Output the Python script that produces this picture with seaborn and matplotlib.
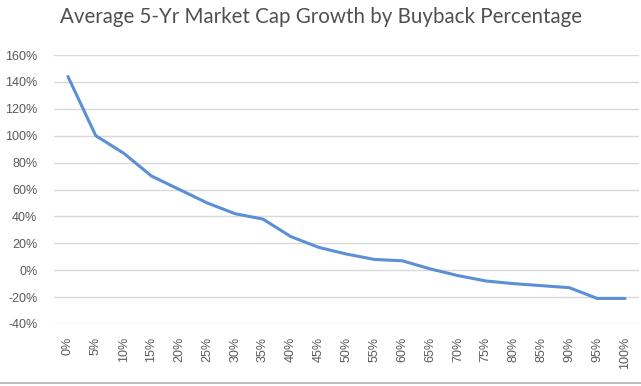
import matplotlib
matplotlib.use("Agg")
import matplotlib.pyplot as plt
import seaborn as sns
import pandas as pd

categories = ["0%", "5%", "10%", "15%", "20%", "25%", "30%", "35%", "40%", "45%",
              "50%", "55%", "60%", "65%", "70%", "75%", "80%", "85%", "90%", "95%", "100%"]
growth = [144, 100, 87, 70, 60, 50, 42, 38, 25, 17,
          12, 8, 7, 1, -4, -8, -10, -11.5, -13, -21, -21]
y_ticks = [-40, -20, 0, 20, 40, 60, 80, 100, 120, 140, 160]

sns.set_style("white")
plt.rcParams['font.family'] = ['Liberation Sans', 'DejaVu Sans']

df = pd.DataFrame({"idx": range(len(categories)), "growth": growth})

fig = plt.figure(figsize=(6.41, 3.86), dpi=100)
ax = fig.add_axes([54/641, 1-324/386, (639-54)/641, (324-55)/386])
sns.lineplot(data=df, x="idx", y="growth", ax=ax, color="#5B8FD6", linewidth=2.2)

ax.set_xlim(-0.5, len(categories) - 0.5)
ax.set_ylim(-40, 160)
ax.set_yticks(y_ticks)
ax.set_yticklabels([f"{v}%" for v in y_ticks], color="#595959", fontsize=9)
ax.set_xticks(range(len(categories)))
ax.set_xticklabels(categories, rotation=90, color="#595959", fontsize=9)
ax.grid(axis="y", color="#D9D9D9", linewidth=1)
ax.set_axisbelow(True)
for s in ax.spines.values():
    s.set_visible(False)
ax.tick_params(axis="y", length=0, pad=12)
ax.tick_params(axis="x", length=0, pad=9)
ax.set_xlabel("")
ax.set_ylabel("")

fig.text(0.5, 1-17/386, "Average 5-Yr Market Cap Growth by Buyback Percentage",
         ha="center", va="center", fontsize=14.8, color="#505050", family=["Lato", "DejaVu Sans"])
fig.add_artist(plt.Line2D([0, 1], [1-383/386, 1-383/386], color="#BFBFBF", linewidth=1.5))

fig.savefig("out.png", dpi=100)
